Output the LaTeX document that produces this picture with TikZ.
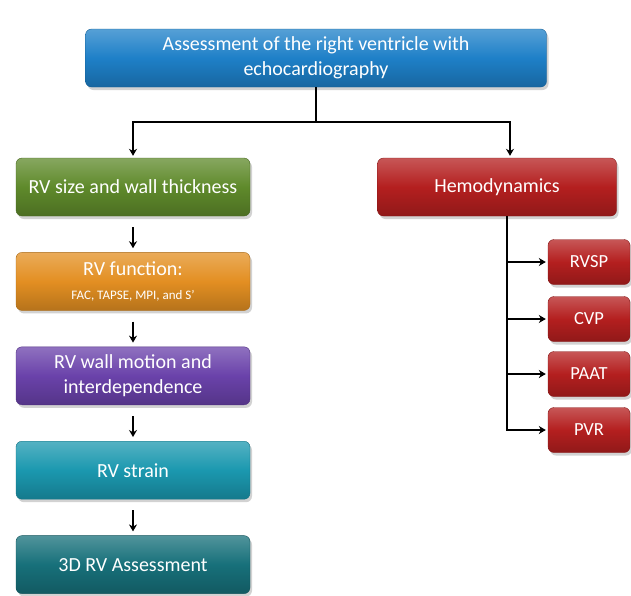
\documentclass[tikz,border=0pt]{standalone}
\usepackage{fontspec}
\setmainfont{Carlito}
\usetikzlibrary{arrows.meta,positioning,shadows}
\definecolor{assesscol}{HTML}{1E80C8}
\definecolor{sizecol}{HTML}{5F8A2B}
\definecolor{funccol}{HTML}{E38F22}
\definecolor{motioncol}{HTML}{6A42AA}
\definecolor{straincol}{HTML}{1B98AF}
\definecolor{threedcol}{HTML}{17707A}
\definecolor{hemocol}{HTML}{B41F1F}

\begin{document}
\begin{tikzpicture}[x=1pt,y=-1pt,node distance=36pt,
  box/.style={rounded corners=6pt,minimum height=58pt,align=center,text=white,
    font=\fontsize{20}{25}\selectfont,draw=#1!75!black,
    top color=#1!75!white,bottom color=#1!80!black,middle color=#1,
    drop shadow={opacity=0.35,shadow xshift=2pt,shadow yshift=-3pt}},
  colbox/.style={box=#1,minimum width=234pt},
  parambox/.style={box=hemocol,minimum width=82pt,minimum height=45pt,font=\fontsize{18.5}{22}\selectfont},
  arr/.style={-{Stealth[length=7pt,width=8pt]},line width=1.6pt},
  link/.style={line width=1.6pt}]
  \useasboundingbox[fill=white] (0,0) rectangle (631,595);
  \node[box=assesscol,minimum width=461pt] (assess) at (316,58) {Assessment of the right ventricle with\\echocardiography};
  % left column
  \node[colbox=sizecol] (size) at (133,187) {RV size and wall thickness};
  \node[colbox=funccol,below=of size] (func) {RV function:\\[-1pt]{\fontsize{13}{16}\selectfont FAC, TAPSE, MPI, and S'}};
  \node[colbox=motioncol,below=of func] (motion) {RV wall motion and\\interdependence};
  \node[colbox=straincol,below=of motion] (strain) {RV strain};
  \node[colbox=threedcol,below=of strain] (threed) {3D RV Assessment};
  % right column
  \node[box=hemocol,minimum width=239pt] (hemo) at (497,187) {Hemodynamics};
  \node[parambox] (rvsp) at (589,262) {RVSP};
  \node[parambox] (cvp)  at (589,319) {CVP};
  \node[parambox] (paat) at (589,374) {PAAT};
  \node[parambox] (pvr)  at (589,430) {PVR};
  % connectors
  \draw[link] (assess.south) -- ++(0,35) coordinate (fork);
  \draw[arr,shorten >=2pt] (fork) -| (size.north);
  \draw[arr,shorten >=2pt] (fork) -| ([xshift=13pt]hemo.north);
  \draw[arr,shorten <=11pt,shorten >=4pt] (size) -- (func);
  \draw[arr,shorten <=11pt,shorten >=4pt] (func) -- (motion);
  \draw[arr,shorten <=11pt,shorten >=4pt] (motion) -- (strain);
  \draw[arr,shorten <=11pt,shorten >=4pt] (strain) -- (threed);
  \coordinate (trunk) at ([xshift=10pt]hemo.south);
  \foreach \p in {rvsp,cvp,paat,pvr}
    \draw[arr,shorten >=2pt] (trunk) |- (\p);
\end{tikzpicture}
\end{document}
